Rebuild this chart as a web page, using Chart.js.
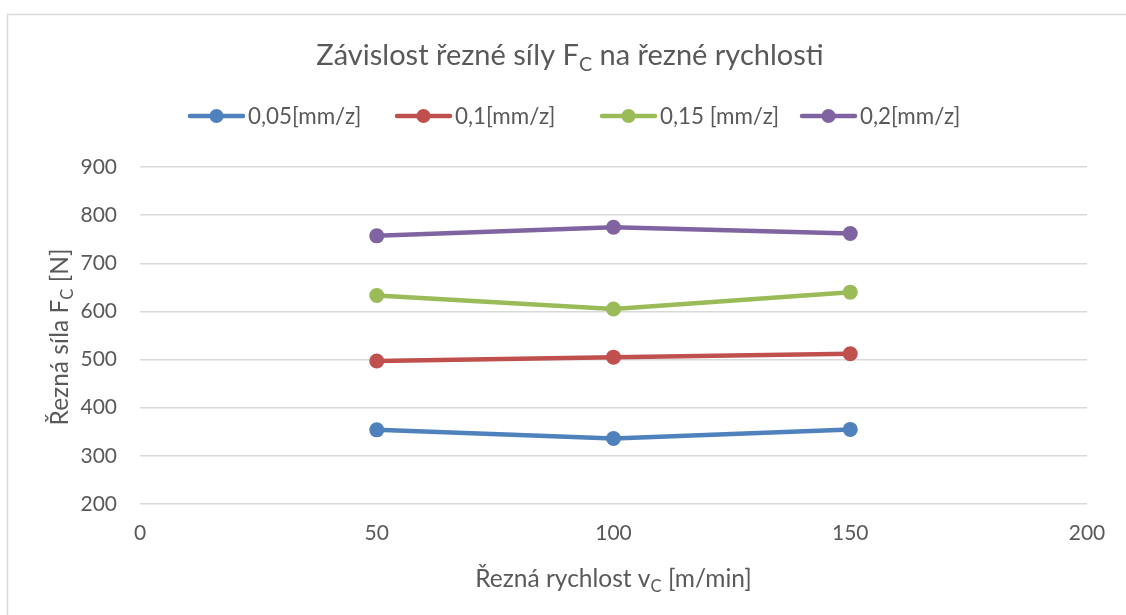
<!DOCTYPE html>
<html><head><meta charset="utf-8">
<script src="https://cdn.jsdelivr.net/npm/chart.js"></script>
<style>html,body{margin:0;padding:0;background:#fff;} canvas{display:block}</style>
</head><body>
<canvas id="c" width="1126" height="615"></canvas>
<script>
// ---- data ----
const speeds = [50, 100, 150];
const seriesNames = ['0,05[mm/z]', '0,1[mm/z]', '0,15 [mm/z]', '0,2[mm/z]'];
const force005 = [354, 336, 355];
const force01 = [497, 505, 512];
const force015 = [633, 605, 640];
const force02 = [757, 775, 762];
const xTicks = [0, 50, 100, 150, 200];
const yTicks = [200, 300, 400, 500, 600, 700, 800, 900];

// ---- style ----
const colors = ['#4f81bd', '#c0504d', '#9bbb59', '#8064a2'];
const textColor = '#595959';
const FONT = 'Lato';
const allSeries = [force005, force01, force015, force02];

function drawRich(ctx, parts, x, y, size, align) {
  const subSize = size * 0.68;
  let total = 0;
  const widths = parts.map(p => {
    ctx.font = (p.sub ? subSize : size) + 'px ' + FONT;
    const w = ctx.measureText(p.t).width;
    total += w;
    return w;
  });
  let cx = align === 'center' ? x - total / 2 : x;
  ctx.textAlign = 'left';
  ctx.textBaseline = 'alphabetic';
  parts.forEach((p, i) => {
    ctx.font = (p.sub ? subSize : size) + 'px ' + FONT;
    ctx.fillText(p.t, cx, p.sub ? y + size * 0.22 : y);
    cx += widths[i];
  });
}

const decor = {
  id: 'decor',
  afterDraw(chart) {
    const ctx = chart.ctx;
    const ca = chart.chartArea;
    ctx.save();
    // outer frame
    ctx.strokeStyle = '#d9d9d9';
    ctx.lineWidth = 1.5;
    ctx.beginPath();
    ctx.moveTo(7.5, 615);
    ctx.lineTo(7.5, 14.5);
    ctx.lineTo(1126, 14.5);
    ctx.stroke();

    ctx.fillStyle = textColor;
    // title
    drawRich(ctx, [{t: 'Závislost řezné síly F'}, {t: 'C', sub: true}, {t: ' na řezné rychlosti'}], 570, 65, 29, 'center');
    // x title
    drawRich(ctx, [{t: 'Řezná rychlost v'}, {t: 'C', sub: true}, {t: ' [m/min]'}], (ca.left + ca.right) / 2, 587, 24.5, 'center');
    // y title
    ctx.save();
    ctx.translate(68, 337);
    ctx.rotate(-Math.PI / 2);
    drawRich(ctx, [{t: 'Řezná síla F'}, {t: 'C', sub: true}, {t: ' [N]'}], 0, 0, 24.5, 'center');
    ctx.restore();

    // legend
    const starts = [188, 395, 600, 800];
    const ly = 116;
    seriesNames.forEach((name, i) => {
      const sx = starts[i];
      ctx.strokeStyle = colors[i];
      ctx.lineWidth = 4.5;
      ctx.lineCap = 'round';
      ctx.beginPath();
      ctx.moveTo(sx + 2, ly);
      ctx.lineTo(sx + 55, ly);
      ctx.stroke();
      ctx.fillStyle = colors[i];
      ctx.beginPath();
      ctx.arc(sx + 28.5, ly, 7, 0, Math.PI * 2);
      ctx.fill();
      ctx.fillStyle = textColor;
      ctx.font = '22.4px ' + FONT;
      ctx.textAlign = 'left';
      ctx.textBaseline = 'alphabetic';
      ctx.fillText(name, sx + 60, 124);
    });
    ctx.restore();
  }
};

new Chart(document.getElementById('c'), {
  type: 'line',
  data: {
    datasets: allSeries.map((vals, i) => ({
      label: seriesNames[i],
      data: speeds.map((s, j) => ({x: s, y: vals[j]})),
      borderColor: colors[i],
      backgroundColor: colors[i],
      pointBackgroundColor: colors[i],
      pointBorderColor: colors[i],
      borderWidth: 4.5,
      pointRadius: 7.5,
      pointBorderWidth: 0,
      borderCapStyle: 'round',
      borderJoinStyle: 'round',
      tension: 0,
      fill: false
    }))
  },
  options: {
    responsive: false,
    animation: false,
    layout: {padding: {top: 167, right: 39, left: 0, bottom: 0}},
    plugins: {legend: {display: false}, title: {display: false}, tooltip: {enabled: false}},
    scales: {
      x: {
        type: 'linear',
        min: 0, max: 200,
        afterBuildTicks: s => { s.ticks = xTicks.map(v => ({value: v})); },
        afterFit: s => { s.height = 111; },
        grid: {display: false, drawTicks: false},
        border: {display: false},
        ticks: {color: textColor, font: {family: FONT, size: 21}, padding: 17}
      },
      y: {
        min: 200, max: 900,
        afterBuildTicks: s => { s.ticks = yTicks.map(v => ({value: v})); },
        afterFit: s => { s.width = 140; },
        grid: {color: '#d9d9d9', lineWidth: 1.5, drawTicks: false},
        border: {display: false},
        ticks: {color: textColor, font: {family: FONT, size: 21}, padding: 23}
      }
    }
  },
  plugins: [decor]
});
</script>
</body></html>
